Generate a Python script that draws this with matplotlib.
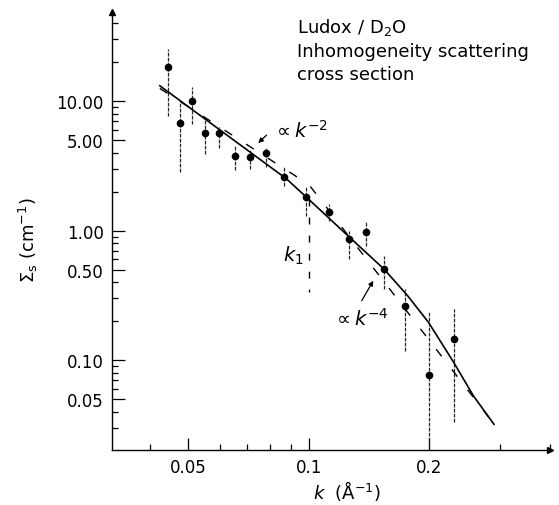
import matplotlib
matplotlib.use("Agg")
import matplotlib.pyplot as plt
import matplotlib.ticker as ticker

# measured points (k in 1/A, cross section in 1/cm)
k = [0.0445, 0.0476, 0.0511, 0.0551, 0.0597, 0.0652, 0.0712, 0.0781, 0.0866,
     0.0983, 0.112, 0.126, 0.139, 0.154, 0.174, 0.199, 0.230]
sigma = [18.3, 6.79, 10.0, 5.68, 5.71, 3.75, 3.69, 3.96, 2.61,
         1.83, 1.40, 0.863, 0.972, 0.506, 0.261, 0.0773, 0.146]
err_hi = [25.3, 10.0, 12.9, 7.55, 6.32, 4.55, 4.27, 4.43, 3.10,
          2.21, 1.61, 0.995, 1.19, 0.638, 0.355, 0.240, 0.248]
err_lo = [7.69, 2.84, 6.67, 3.91, 4.35, 2.92, 3.00, 3.10, 2.21,
          1.30, 1.19, 0.605, 0.762, 0.355, 0.118, 0.0219, 0.0333]

# solid fit curve
fit_k = [0.0424, 0.0880, 0.0983, 0.126, 0.154, 0.176, 0.199, 0.230, 0.2575, 0.290]
fit_s = [13.17, 2.507, 1.830, 0.897, 0.506, 0.318, 0.196, 0.0963, 0.0532, 0.0320]

# dashed power laws k^-2 then k^-4, corner at k1
model_k = [0.0424, 0.100, 0.290]
model_s = [12.57, 2.27, 0.0322]
k1 = 0.100
k1_span = [1.75, 0.336]

yticks = [0.05, 0.1, 0.5, 1, 5, 10]
ylabels = ["0.05", "0.10", "0.50", "1.00", "5.00", "10.00"]
xticks = [0.05, 0.1, 0.2]
xlabels = ["0.05", "0.1", "0.2"]

fig = plt.figure(figsize=(5.59, 5.06), dpi=100)
ax = fig.add_axes([112 / 559, 1 - 451 / 506, 438 / 559, 438 / 506])
ax.set_xscale("log")
ax.set_yscale("log")
ax.set_xlim(0.0322, 0.4004)
ax.set_ylim(0.02025, 48.9)

for x, lo, hi in zip(k, err_lo, err_hi):
    ax.plot([x, x], [lo, hi], color="0.15", lw=0.9, ls=(0, (3, 1)))
ax.plot(k, sigma, "o", color="black", ms=4.5)

ax.plot(fit_k, fit_s, color="black", lw=1.2)
ax.plot(model_k, model_s, color="black", lw=1.0, ls=(0, (6.5, 12)))
ax.plot([k1, k1], k1_span, color="black", lw=1.0, ls=(0, (5, 8)))

ax.text(0.0813, 5.29, r"$\propto k^{-2}$", fontsize=14, va="baseline")
ax.annotate("", xy=(0.0747, 4.76), xytext=(0.0784, 5.48),
            arrowprops=dict(arrowstyle="-|>", color="black", lw=0.9,
                            mutation_scale=7, shrinkA=0, shrinkB=0))
ax.text(0.1148, 0.1893, r"$\propto k^{-4}$", fontsize=14, va="baseline")
ax.annotate("", xy=(0.1448, 0.411), xytext=(0.1355, 0.288),
            arrowprops=dict(arrowstyle="-|>", color="black", lw=0.9,
                            mutation_scale=7, shrinkA=0, shrinkB=0))
ax.text(0.0861, 0.583, r"$k_1$", fontsize=14, va="baseline")

ax.text(0.4224, 0.991, "Ludox / D$_2$O\nInhomogeneity scattering\ncross section",
        transform=ax.transAxes, fontsize=13, va="top", ha="left", linespacing=1.35)

ax.yaxis.set_major_locator(ticker.FixedLocator(yticks))
ax.yaxis.set_major_formatter(ticker.FixedFormatter(ylabels))
ax.yaxis.set_minor_locator(ticker.LogLocator(base=10, subs=(2, 3, 4, 6, 7, 8, 9)))
ax.yaxis.set_minor_formatter(ticker.NullFormatter())
ax.xaxis.set_major_locator(ticker.FixedLocator(xticks))
ax.xaxis.set_major_formatter(ticker.FixedFormatter(xlabels))
ax.xaxis.set_minor_locator(ticker.LogLocator(base=10, subs=(2, 3, 4, 5, 6, 7, 8, 9)))
ax.xaxis.set_minor_formatter(ticker.NullFormatter())

ax.tick_params(which="both", direction="in", width=0.9, labelsize=12)
ax.tick_params(which="major", length=9, pad=6)
ax.tick_params(which="minor", length=4)

ax.spines["top"].set_visible(False)
ax.spines["right"].set_visible(False)
ax.spines["left"].set_linewidth(1.0)
ax.spines["bottom"].set_linewidth(1.0)
ax.plot([0], [1], "^", color="black", ms=4, transform=ax.transAxes, clip_on=False)
ax.plot([1], [0], ">", color="black", ms=4, transform=ax.transAxes, clip_on=False)

fig.text(28 / 559, 1 - 240 / 506, r"$\Sigma_{\mathrm{s}}$ (cm$^{-1}$)",
         rotation=90, ha="center", va="center", fontsize=13)
fig.text(347 / 559, 3 / 506, r"$k$  (Å$^{-1}$)",
         ha="center", va="bottom", fontsize=13)

fig.savefig("out.png", dpi=100)
